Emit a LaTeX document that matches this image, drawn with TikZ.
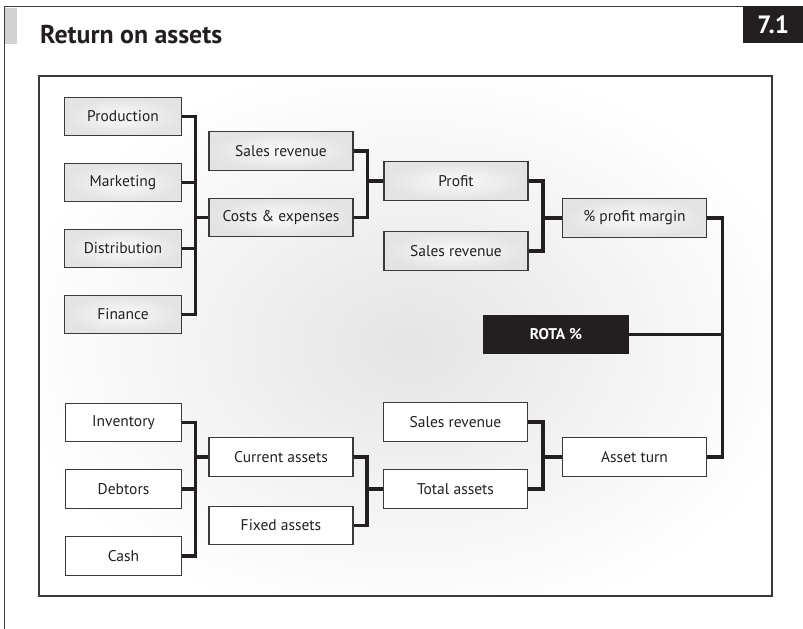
\documentclass[tikz,border=0pt]{standalone}
\usepackage{fontspec}
\setmainfont{PT Sans}
\usetikzlibrary{calc}
\definecolor{ink}{HTML}{231F20}
\definecolor{rim}{HTML}{3A3A3A}
\begin{document}
\begin{tikzpicture}[x=1pt,y=-1pt,
  box/.style={draw=rim, line width=1.2pt, minimum width=144pt, minimum height=38.5pt,
    inner sep=0pt, font=\fontsize{15.5}{17}\selectfont, text=ink},
  greybox/.style={box, inner color=gray!4, outer color=gray!22},
  whitebox/.style={box, fill=white},
  narrow/.style={minimum width=116.5pt},
  conn/.style={draw=ink, line width=3.6pt, line join=miter},
]
\useasboundingbox (0,0) rectangle (803,629);

% page furniture
\draw[rim, line width=1.3pt] (743,6.5) -- (4.5,6.5) -- (4.5,629);
\fill[gray!35] (5.2,8) rectangle (17,44);
\node[anchor=base west, inner sep=0pt, text=ink] (title) at (40,43)
  {\resizebox{182pt}{!}{\bfseries Return on assets}};
\node[fill=ink, anchor=north west, minimum width=60pt, minimum height=37pt, inner sep=0pt,
  text=white, font=\bfseries\fontsize{25}{26}\selectfont] (num) at (743,6) {7.1};

% panel with soft central shading, built from nested ellipses
\begin{scope}
  \clip (39,76) rectangle (772,596);
  \fill[white] (39,76) rectangle (772,596);
  \foreach \k in {0,...,59} {
    \pgfmathsetmacro\t{1-\k/60}
    \pgfmathsetmacro\g{21*(1-\t)}
    \fill[gray!\g] (410,345) ellipse ({400*\t} and {285*\t});
  }
\end{scope}
\draw[rim, line width=1.2pt] (39,76) rectangle (772,596);

% profit side
\node[greybox, narrow] (prod) at (123,116.5) {Production};
\node[greybox, narrow] (mark) at (123,182.5) {Marketing};
\node[greybox, narrow] (dist) at (123,248.5) {Distribution};
\node[greybox, narrow] (fin)  at (123,314.5) {Finance};
\node[greybox] (sal1) at (281,151) {Sales revenue};
\node[greybox] (cost) at (281,217.5) {Costs \& expenses};
\node[greybox] (prof) at (456,181) {Profit};
\node[greybox] (sal2) at (456,251) {Sales revenue};
\node[greybox] (marg) at (634.5,218) {\% profit margin};

% result
\node[box, draw=ink, fill=ink, text=white, font=\bfseries\fontsize{15.5}{17}\selectfont]
  (rota) at (556,334.5) {ROTA \%};
\coordinate (t4) at (722.5,334.5);

% asset side
\node[whitebox, narrow] (inv)  at (123.5,422.5) {Inventory};
\node[whitebox, narrow] (debt) at (123.5,489) {Debtors};
\node[whitebox, narrow] (cash) at (123.5,556) {Cash};
\node[whitebox] (curr) at (281,457) {Current assets};
\node[whitebox] (fix)  at (281,525.5) {Fixed assets};
\node[whitebox] (sal3) at (455.5,422) {Sales revenue};
\node[whitebox] (tot)  at (455.5,489) {Total assets};
\node[whitebox] (turn) at (634.5,457) {Asset turn};

% connectors
\foreach \c in {prod,mark,dist,fin}
  \draw[conn] (\c.east) -| ([xshift=-13pt]cost.west) -- (cost.west);
\foreach \c in {sal1,cost}
  \draw[conn] (\c.east) -| ([xshift=-16pt]prof.west) -- (prof.west);
\foreach \c in {prof,sal2}
  \draw[conn] (\c.east) -| ([xshift=-19pt]marg.west) -- (marg.west);
\foreach \c in {inv,debt,cash}
  \draw[conn] (\c.east) -| ([xshift=-13pt]curr.west) -- (curr.west);
\foreach \c in {curr,fix}
  \draw[conn] (\c.east) -| ([xshift=-16pt]tot.west) -- (tot.west);
\foreach \c in {sal3,tot}
  \draw[conn] (\c.east) -| ([xshift=-19pt]turn.west) -- (turn.west);
\draw[conn] (marg.east) -| (t4) -- (rota.east);
\draw[conn] (turn.east) -| (t4);
\end{tikzpicture}
\end{document}
